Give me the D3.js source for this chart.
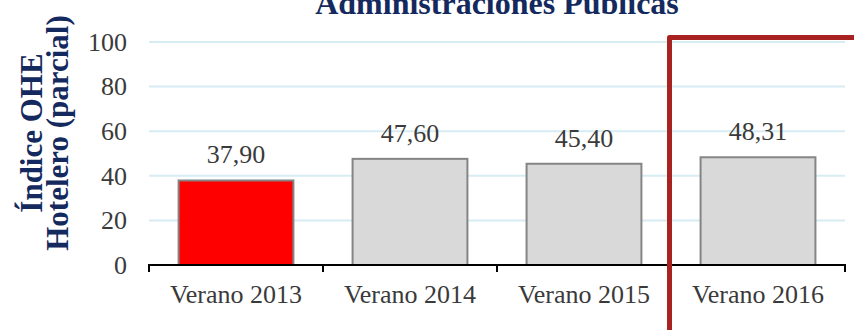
<!DOCTYPE html>
<html>
<head>
<meta charset="utf-8">
<script src="https://cdn.jsdelivr.net/npm/d3@7"></script>
<style>
  html, body { margin: 0; padding: 0; background: #ffffff; }
  svg { display: block; }
</style>
</head>
<body>
<svg id="chart" width="854" height="330"></svg>
<script>
// Chart data
const categories = ["Verano 2013", "Verano 2014", "Verano 2015", "Verano 2016"];
const values = [37.90, 47.60, 45.40, 48.31];
const valueLabels = ["37,90", "47,60", "45,40", "48,31"];
const yTicks = [0, 20, 40, 60, 80, 100];
const highlighted = ["Verano 2013"];
const titleText = "Administraciones Públicas";
const yTitleLines = ["Índice OHE", "Hotelero (parcial)"];
const markedCategory = "Verano 2016";

const W = 854, H = 330;
const plot = { left: 149, right: 845, top: 42, bottom: 265 };

const svg = d3.select("#chart");

const x = d3.scaleBand()
  .domain(categories)
  .range([plot.left, plot.right])
  .paddingInner(0.34)
  .paddingOuter(0.17);

const y = d3.scaleLinear()
  .domain([0, 100])
  .range([plot.bottom, plot.top]);

const serif = "'Liberation Serif', 'Times New Roman', serif";
const navy = "#142a5e";
const textGrey = "#3a3a3a";
const labelSize = 26;

// Horizontal gridlines
svg.append("g")
  .selectAll("line")
  .data(yTicks.filter(d => d > 0))
  .join("line")
  .attr("x1", plot.left)
  .attr("x2", plot.right)
  .attr("y1", d => y(d))
  .attr("y2", d => y(d))
  .attr("stroke", "#d8ecf4")
  .attr("stroke-width", 2);

// Y tick labels
const yAxis = d3.axisLeft(y).tickValues(yTicks).tickSize(0).tickPadding(0).tickFormat(d3.format("d"));
const yg = svg.append("g")
  .attr("transform", `translate(${plot.left - 22},0)`)
  .call(yAxis);
yg.select(".domain").remove();
yg.selectAll("text")
  .attr("font-family", serif)
  .attr("font-size", labelSize)
  .attr("fill", textGrey)
  .attr("dy", "0.32em");

// Bars
svg.append("g")
  .selectAll("rect")
  .data(categories)
  .join("rect")
  .attr("x", d => x(d))
  .attr("width", x.bandwidth())
  .attr("y", (d, i) => y(values[i]))
  .attr("height", (d, i) => y(0) - y(values[i]))
  .attr("fill", d => highlighted.includes(d) ? "#ff0000" : "#d9d9d9")
  .attr("stroke", "#858585")
  .attr("stroke-width", 2);

// Value labels
svg.append("g")
  .selectAll("text")
  .data(categories)
  .join("text")
  .attr("x", d => x(d) + x.bandwidth() / 2)
  .attr("y", (d, i) => y(values[i]) - 17)
  .attr("text-anchor", "middle")
  .attr("font-family", serif)
  .attr("font-size", labelSize)
  .attr("fill", textGrey)
  .text((d, i) => valueLabels[i]);

// X axis: baseline, boundary ticks and category labels
const step = x.step();
const boundaries = categories.map(d => x(d) - x.paddingInner() * step / 2)
  .concat([plot.right]);

const xg = svg.append("g");
xg.append("line")
  .attr("x1", plot.left - 1)
  .attr("x2", plot.right + 1)
  .attr("y1", y(0))
  .attr("y2", y(0))
  .attr("stroke", "#000")
  .attr("stroke-width", 2);
xg.selectAll("line.tick")
  .data(boundaries)
  .join("line")
  .attr("class", "tick")
  .attr("x1", d => d)
  .attr("x2", d => d)
  .attr("y1", y(0))
  .attr("y2", y(0) + 7)
  .attr("stroke", "#000")
  .attr("stroke-width", 2);
xg.selectAll("text")
  .data(categories)
  .join("text")
  .attr("x", d => x(d) + x.bandwidth() / 2)
  .attr("y", y(0) + 38)
  .attr("text-anchor", "middle")
  .attr("font-family", serif)
  .attr("font-size", labelSize)
  .attr("fill", textGrey)
  .text(d => d);

// Title
svg.append("text")
  .attr("x", (plot.left + plot.right) / 2)
  .attr("y", 14)
  .attr("text-anchor", "middle")
  .attr("font-family", serif)
  .attr("font-weight", "bold")
  .attr("font-size", 32)
  .attr("fill", navy)
  .text(titleText);

// Y axis title (two lines, rotated)
const yTitle = svg.append("text")
  .attr("transform", "translate(42,133) rotate(-90)")
  .attr("text-anchor", "middle")
  .attr("font-family", serif)
  .attr("font-weight", "bold")
  .attr("font-size", 31)
  .attr("fill", navy);
yTitle.selectAll("tspan")
  .data(yTitleLines)
  .join("tspan")
  .attr("x", 0)
  .attr("dy", (d, i) => i === 0 ? 0 : 26)
  .text(d => d);

// Marker bracket around the latest season
const markX = x(markedCategory) - x.paddingInner() * step / 2 - 1.5;
const markY = y(100) - 4.5;
svg.append("path")
  .attr("d", `M${markX},${H} L${markX},${markY} L${W},${markY}`)
  .attr("fill", "none")
  .attr("stroke", "#a82222")
  .attr("stroke-width", 5)
  .attr("stroke-linejoin", "round");
</script>
</body>
</html>
